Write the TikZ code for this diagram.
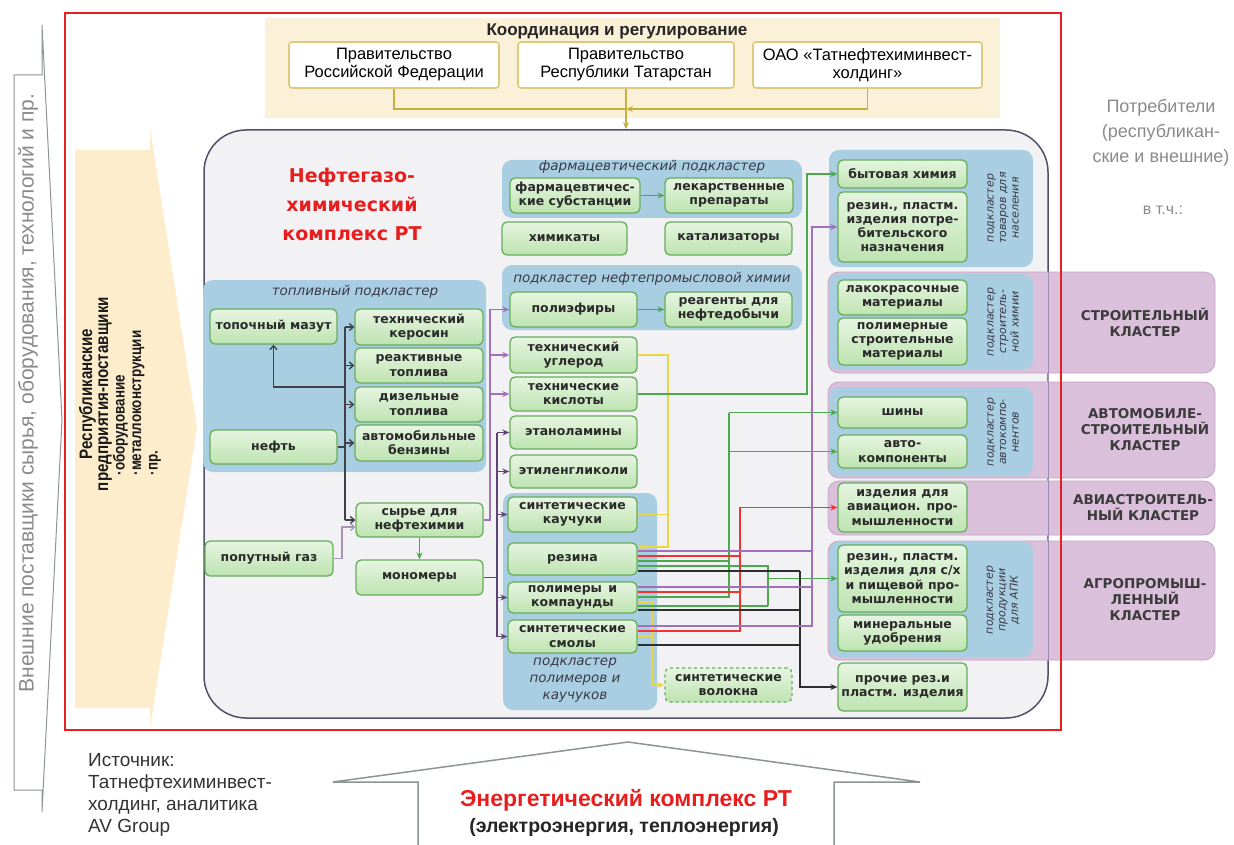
\documentclass[tikz,border=0pt]{standalone}
\usepackage{fontspec}
\setmainfont{DejaVu Sans}
\newfontfamily\arialf{Liberation Sans}
\newfontfamily\narrowf[FakeStretch=0.84]{Liberation Sans}
\usetikzlibrary{arrows.meta}
\definecolor{boxgreen}{HTML}{68AC5C}
\definecolor{boxtop}{HTML}{E6F5E0}
\definecolor{boxbot}{HTML}{BDE3B0}
\definecolor{boxtext}{HTML}{2A2A2A}
\definecolor{subblue}{HTML}{A9CEE2}
\definecolor{subtext}{HTML}{3A3A48}
\definecolor{clpurple}{HTML}{DAC0DA}
\definecolor{clborder}{HTML}{C4A4C6}
\definecolor{cltextc}{HTML}{3C3C3C}
\definecolor{beige}{HTML}{FBF1D9}
\definecolor{arrbeige}{HTML}{FDEDCC}
\definecolor{govborder}{HTML}{DCCB7C}
\definecolor{gold}{HTML}{C8B040}
\definecolor{mainfill}{HTML}{F2F2F4}
\definecolor{mainborder}{HTML}{50506A}
\definecolor{mainborderp}{HTML}{A08CB8}
\definecolor{framered}{HTML}{E42020}
\definecolor{titlered}{HTML}{E81E1E}
\definecolor{lnpurple}{HTML}{A070B8}
\definecolor{lndpurple}{HTML}{5E4474}
\definecolor{lnlpurple}{HTML}{A894B4}
\definecolor{lnyellow}{HTML}{EDD548}
\definecolor{lngreen}{HTML}{4CA84C}
\definecolor{lnred}{HTML}{F03434}
\definecolor{lnblack}{HTML}{2E2E2E}
\definecolor{lndark}{HTML}{404048}
\definecolor{graytext}{HTML}{8A8A8A}
\definecolor{grayline}{HTML}{8C9494}
\begin{document}
\begin{tikzpicture}[x=1pt,y=-1pt,
  bx/.style={draw=boxgreen, top color=boxtop, bottom color=boxbot, line width=1.3pt, rounded corners=5pt, align=center, inner sep=1pt, text=boxtext, font=\bfseries\fontsize{12.5}{14.2}\selectfont},
  subcl/.style={fill=subblue, rounded corners=10pt},
  band/.style={fill=clpurple, draw=clborder, line width=0.8pt, rounded corners=11pt},
  subtitle/.style={font=\itshape\fontsize{13.5}{16}\selectfont, text=subtext, align=center},
  sidelabel/.style={rotate=90, font=\itshape\fontsize{11}{12.5}\selectfont, text=subtext, align=center},
  cltext/.style={font=\bfseries\fontsize{13.5}{16}\selectfont, text=cltextc, align=center},
  gov/.style={draw=govborder, fill=white, line width=1.6pt, rounded corners=3pt, align=center, font=\arialf\fontsize{16.5}{18}\selectfont, inner sep=1pt},
  tip/.style={-{Stealth[length=7pt,width=6pt]}},
  tipo/.style={-{Straight Barb[length=4pt,width=7pt]}},
  cP/.style={draw=lnpurple, line width=1.3pt},
  cDP/.style={draw=lndpurple, line width=1.3pt},
  cLP/.style={draw=lnlpurple, line width=1.2pt},
  cY/.style={draw=lnyellow, line width=1.5pt},
  cG/.style={draw=lngreen, line width=1.3pt},
  cR/.style={draw=lnred, line width=1.5pt},
  cK/.style={draw=lnblack, line width=1.3pt},
  cD/.style={draw=lndark, line width=1.4pt},
  cGold/.style={draw=gold, line width=1.5pt}
]
\useasboundingbox (0,0) rectangle (1234,845);

% ---------- outer left chevron ----------
\draw[grayline, line width=1pt, fill=white] (14,75) -- (42,75) -- (42,25) -- (62,420) -- (42,812) -- (42,790) -- (14,790) -- cycle;
\node[rotate=90, font=\arialf\fontsize{21}{23}\selectfont, text=graytext] (ext) at (28,393) {Внешние поставщики сырья, оборудования, технологий и пр.};

% ---------- left beige arrow ----------
\fill[arrbeige] (75,150) -- (150,150) -- (150,128) -- (197,428) -- (150,728) -- (150,708) -- (75,708) -- cycle;
\node[rotate=90, font=\narrowf\bfseries\fontsize{18}{16}\selectfont, align=center, text=black!90] (rep) at (95.5,394) {Республиканские\\предприятия-поставщики};
\node[rotate=90, anchor=west, font=\narrowf\bfseries\fontsize{16}{16.5}\selectfont, align=left, text=black!90] (bul) at (137,479) {·оборудование\\·металлоконструкции\\·пр.};

% ---------- coordination ----------
\fill[beige] (265,18) rectangle (1000,118);
\node[font=\arialf\bfseries\fontsize{17}{19}\selectfont, text=black!85] (coord) at (617,31) {Координация и регулирование};
\node[gov, minimum width=210pt, minimum height=46pt] (gov1) at (394,65) {Правительство\\Российской Федерации};
\node[gov, minimum width=216pt, minimum height=46pt] (gov2) at (626,65) {Правительство\\Республики Татарстан};
\node[gov, minimum width=229pt, minimum height=46pt] (gov3) at (867.5,65) {ОАО «Татнефтехиминвест-\\холдинг»};

% ---------- main box ----------
\node[draw=mainborder, fill=mainfill, line width=1.5pt, rounded corners=42pt, minimum width=844pt, minimum height=588pt, inner sep=0pt] (main) at (626,424) {};

\coordinate (govj) at (626,109);
\draw[cGold] (gov1.south) |- (govj);
\draw[cGold, tip] (gov3.south) |- (govj);
\draw[cGold, tip] (gov2.south) -- (gov2.south |- main.north);

\node[font=\bfseries\fontsize{19}{29}\selectfont, text=titlered, align=center] (title) at (352,204) {Нефтегазо-\\химический\\комплекс РТ};

% ---------- purple cluster bands ----------
\draw[band] (828,272) rectangle (1215,373);
\draw[band] (828,382) rectangle (1215,478);
\draw[band] (828,481) rectangle (1215,535);
\draw[band] (828,541) rectangle (1215,660);
\draw[mainborderp, line width=1.2pt] (main.east |- 0,272) -- (main.east |- 0,660);
\node[cltext] (cl1) at (1145,322) {СТРОИТЕЛЬНЫЙ\\КЛАСТЕР};
\node[cltext] (cl2) at (1145,430) {АВТОМОБИЛЕ-\\СТРОИТЕЛЬНЫЙ\\КЛАСТЕР};
\node[cltext] (cl3) at (1143,508) {АВИАСТРОИТЕЛЬ-\\НЫЙ КЛАСТЕР};
\node[cltext] (cl4) at (1145,600) {АГРОПРОМЫШ-\\ЛЕННЫЙ\\КЛАСТЕР};

% ---------- subclusters ----------
\fill[subcl] (203,280) rectangle (486,472);
\fill[subcl] (502,160) rectangle (802,218);
\fill[subcl] (502,265) rectangle (802,330);
\fill[subcl] (503,493) rectangle (657,710);
\fill[subcl] (829,150) rectangle (1033,267);
\fill[subcl] (829,274) rectangle (1033,370);
\fill[subcl] (829,387) rectangle (1033,476);
\fill[subcl] (829,542) rectangle (1033,657);

\node[subtitle] (st1) at (355,292) {топливный подкластер};
\node[subtitle] (st2) at (652,167) {фармацевтический подкластер};
\node[subtitle] (st3) at (652,279) {подкластер нефтепромысловой химии};
\node[subtitle, font=\itshape\fontsize{13.5}{17}\selectfont] (st4) at (575,680) {подкластер\\полимеров и\\каучуков};
\node[sidelabel] (sl1) at (1003,208) {подкластер\\товаров для\\населения};
\node[sidelabel] (sl2) at (1003,322) {подкластер\\строитель-\\ной химии};
\node[sidelabel] (sl3) at (1003,432) {подкластер\\автокомпо-\\нентов};
\node[sidelabel] (sl4) at (1003,600) {подкластер\\продукции\\для АПК};

% ---------- consumers ----------
\node[font=\arialf\fontsize{18}{25}\selectfont, text=graytext, align=center] (cons) at (1161,133) {Потребители\\(республикан-\\ские и внешние)};
\node[font=\arialf\fontsize{16}{18}\selectfont, text=graytext] (vtch) at (1163,210) {в т.ч.:};

% ---------- green boxes ----------
\node[bx, minimum width=127pt, minimum height=35pt] (mazut) at (273.5,326.5) {топочный мазут};
\node[bx, minimum width=127pt, minimum height=34pt] (neft) at (273.5,447) {нефть};
\node[bx, minimum width=128pt, minimum height=36pt] (kero) at (419,327) {технический\\керосин};
\node[bx, minimum width=128pt, minimum height=35pt] (reakt) at (419,365.5) {реактивные\\топлива};
\node[bx, minimum width=128pt, minimum height=35pt] (dizel) at (419,404.5) {дизельные\\топлива};
\node[bx, minimum width=128pt, minimum height=36pt] (benz) at (419,443) {автомобильные\\бензины};
\node[bx, minimum width=127pt, minimum height=34pt] (syr) at (419.5,520) {сырье для\\нефтехимии};
\node[bx, minimum width=128pt, minimum height=35pt] (gaz) at (269,558.5) {попутный газ};
\node[bx, minimum width=127pt, minimum height=35pt] (mono) at (419.5,577.5) {мономеры};

\node[bx, minimum width=130pt, minimum height=35pt] (farm) at (575,195.5) {фармацевтичес-\\кие субстанции};
\node[bx, minimum width=128pt, minimum height=35pt] (lek) at (729,195.5) {лекарственные\\препараты};
\node[bx, minimum width=125pt, minimum height=33pt] (khim) at (564.5,238.5) {химикаты};
\node[bx, minimum width=127pt, minimum height=33pt] (katal) at (728.5,238.5) {катализаторы};
\node[bx, minimum width=127pt, minimum height=35pt] (poly) at (573.5,309.5) {полиэфиры};
\node[bx, minimum width=127pt, minimum height=35pt] (reag) at (728.5,309.5) {реагенты для\\нефтедобычи};
\node[bx, minimum width=127pt, minimum height=36pt] (ugl) at (573.5,355) {технический\\углерод};
\node[bx, minimum width=127pt, minimum height=34pt] (kisl) at (573.5,394) {технические\\кислоты};
\node[bx, minimum width=127pt, minimum height=33pt] (etan) at (573.5,432.5) {этаноламины};
\node[bx, minimum width=127pt, minimum height=33pt] (etil) at (573.5,471.5) {этиленгликоли};
\node[bx, minimum width=129pt, minimum height=35pt] (kauch) at (572.5,514.5) {синтетические\\каучуки};
\node[bx, minimum width=129pt, minimum height=32pt] (rez) at (572.5,559) {резина};
\node[bx, minimum width=129pt, minimum height=31pt] (pol) at (572.5,597.5) {полимеры\enspace и\\компаунды};
\node[bx, minimum width=129pt, minimum height=33pt] (smo) at (572.5,636.5) {синтетические\\смолы};
\node[bx, dashed, minimum width=127pt, minimum height=34pt] (vol) at (728.5,685) {синтетические\\волокна};

\node[bx, minimum width=129pt, minimum height=28pt] (byt) at (902.5,174) {бытовая химия};
\node[bx, minimum width=129pt, minimum height=70pt] (potr) at (902.5,227) {резин., пластм.\\изделия потре-\\бительского\\назначения};
\node[bx, minimum width=129pt, minimum height=35pt] (lak) at (902.5,297.5) {лакокрасочные\\материалы};
\node[bx, minimum width=129pt, minimum height=47pt] (polst) at (902.5,341.5) {полимерные\\строительные\\материалы};
\node[bx, minimum width=129pt, minimum height=31pt] (shin) at (902.5,412.5) {шины};
\node[bx, minimum width=129pt, minimum height=33pt] (avtok) at (902.5,451.5) {авто-\\компоненты};
\node[bx, minimum width=129pt, minimum height=49pt] (avia) at (902.5,507.5) {изделия для\\авиацион. про-\\мышленности};
\node[bx, minimum width=129pt, minimum height=67pt] (agro) at (902.5,578.5) {резин., пластм.\\изделия для с/х\\и пищевой про-\\мышленности};
\node[bx, minimum width=129pt, minimum height=36pt] (udob) at (902.5,633) {минеральные\\удобрения};
\node[bx, minimum width=129pt, minimum height=48pt] (proch) at (902.5,687) {прочие рез.и\\пластм. изделия};

% ---------- fuel connectors ----------
\coordinate (fb) at (345,0);
\draw[cD] (neft.east) -- (fb |- neft.east);
\draw[cD] (fb |- kero.west) -- (fb |- syr.west);
\draw[cD, tipo] (fb |- kero.west) -- (kero.west);
\draw[cD, tipo] (fb |- reakt.west) -- (reakt.west);
\draw[cD, tipo] (fb |- dizel.west) -- (dizel.west);
\draw[cD, tipo] (fb |- benz.west) -- (benz.west);
\draw[cD, tipo] (fb |- 0,387) -| (mazut.south);
\draw[cD, tipo] (fb |- syr.west) -- (syr.west);
\draw[cLP, tipo] (gaz.east) -| (342,527) -- (syr.west |- 0,527);
\draw[cG, tip] (syr) -- (mono);

% ---------- pharma / oil ----------
\draw[cG, tip] (farm) -- (lek);
\draw[cG, tip] (poly) -- (reag);

% ---------- purple feeders ----------
\coordinate (pb) at (490,0);
\draw[cP, tip] (syr.east) -| (pb |- poly.west) -- (poly.west);
\draw[cP, tip] (pb |- ugl.west) -- (ugl.west);
\draw[cP, tip] (pb |- kisl.west) -- (kisl.west);
\coordinate (mb) at (497,0);
\draw[cDP] (mono.east) -- (mb |- mono.east);
\draw[cDP] (mb |- etan.west) -- (mb |- smo.west);
\draw[cDP, tip] (mb |- etan.west) -- (etan.west);
\draw[cDP, tip] (mb |- etil.west) -- (etil.west);
\draw[cDP, tip] (mb |- kauch.west) -- (kauch.west);
\draw[cDP, tip] (mb |- pol.west) -- (pol.west);
\draw[cDP, tip] (mb |- smo.west) -- (smo.west);

% ---------- yellow ----------
\coordinate (yb) at (668,0);
\draw[cY, tip] (ugl.east) -| (yb |- 0,547) -- (rez.east |- 0,547);
\draw[cY] (kauch.east) -- (yb |- kauch.east);
\coordinate (yb2) at (652,0);
\draw[cY, tip] (pol.east |- 0,602) -| (yb2 |- vol.west) -- (vol.west);
\draw[cY] (smo.east |- 0,636) -- (yb2 |- 0,636);

% ---------- green ----------
\draw[cG, tip] (kisl.east) -| (807,174) -- (byt.west);
\coordinate (gb) at (729,0);
\draw[cG] (rez.east |- 0,561) -- (gb |- 0,561);
\draw[cG] (pol.east |- 0,597) -| (gb |- shin.west);
\draw[cG, tip] (gb |- shin.west) -- (shin.west);
\draw[cG, tip] (gb |- avtok.west) -- (avtok.west);
\coordinate (gb2) at (768,0);
\draw[cG] (rez.east |- 0,566) -| (gb2 |- 0,606);
\draw[cG] (pol.east |- 0,606) -- (gb2 |- 0,606);
\draw[cG, tip] (gb2 |- agro.west) -- (agro.west);

% ---------- red ----------
\coordinate (rb) at (740,0);
\draw[cR] (rez.east |- 0,556) -- (rb |- 0,556);
\draw[cR] (pol.east |- 0,592) -- (rb |- 0,592);
\draw[cR, tip] (smo.east |- 0,631) -| (rb |- avia.west) -- (avia.west);

% ---------- black ----------
\coordinate (kb) at (800,0);
\draw[cK] (rez.east |- 0,571) -- (kb |- 0,571);
\draw[cK] (pol.east |- 0,610) -- (kb |- 0,610);
\draw[cK] (smo.east |- 0,645) -- (kb |- 0,645);
\draw[cK, tip] (kb |- 0,571) |- (proch.west);

% ---------- purple to consumer goods ----------
\coordinate (Pb) at (812,0);
\draw[cP] (rez.east |- 0,551) -- (Pb |- 0,551);
\draw[cP] (pol.east |- 0,587) -- (Pb |- 0,587);
\draw[cP, tip] (smo.east |- 0,626) -| (Pb |- potr.west) -- (potr.west);

% ---------- red frame ----------
\draw[framered, line width=2.6pt] (65,13) rectangle (1061,730);

% ---------- energy arrow ----------
\draw[grayline, line width=1.5pt, fill=white] (418,850) -- (418,782) -- (333,782) -- (628,742) -- (920,782) -- (834,782) -- (834,850);
\node[font=\arialf\bfseries\fontsize{23}{25}\selectfont, text=titlered] (en1) at (626,800) {Энергетический комплекс РТ};
\node[font=\arialf\bfseries\fontsize{19.5}{21}\selectfont, text=black!85] (en2) at (624,827) {(электроэнергия, теплоэнергия)};

% ---------- source ----------
\node[anchor=north west, font=\arialf\fontsize{19}{22}\selectfont, text=black!80, align=left, inner sep=0pt] (src) at (88,753) {Источник:\\Татнефтехиминвест-\\холдинг, аналитика\\AV Group};
\end{tikzpicture}
\end{document}
